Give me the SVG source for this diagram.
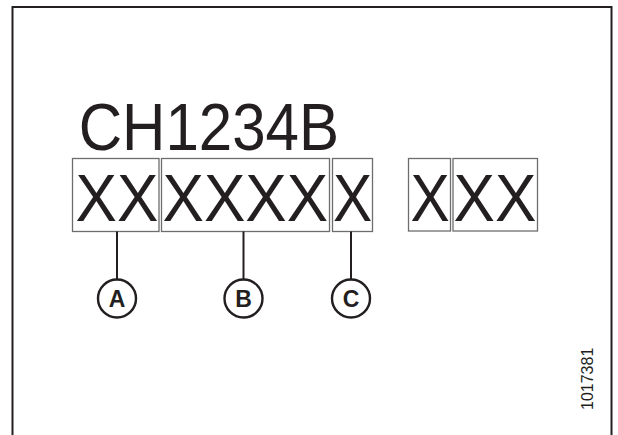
<svg xmlns="http://www.w3.org/2000/svg" width="618" height="435" viewBox="0 0 618 435">
<style>
.big{font-family:"Liberation Sans",Arial,sans-serif;font-size:66px;fill:#231f20}
.box{fill:none;stroke:#6d6d6d;stroke-width:1.3}
.lead{stroke:#231f20;stroke-width:2;fill:none}
.call{fill:#fff;stroke:#231f20;stroke-width:2.4}
.lbl{font-family:"Liberation Sans",Arial,sans-serif;font-size:23px;font-weight:bold;fill:#231f20;text-anchor:middle}
.id{font-family:"Liberation Sans",Arial,sans-serif;font-size:16px;fill:#231f20}
</style>
<rect x="0" y="0" width="618" height="435" fill="#fff"/>
<rect x="12.5" y="7" width="599" height="440" fill="none" stroke="#231f20" stroke-width="2"/>
<g id="title"><text class="big" font-size="65.6" transform="translate(78.7 150) scale(0.91 1)">CH1234B</text></g>
<g id="seg-a"><rect class="box" x="72.5" y="158.5" width="86.5" height="73"/><text class="big" transform="translate(75.5 221) scale(0.94 1)">XX</text></g>
<g id="seg-b"><rect class="box" x="161.5" y="158.5" width="168" height="73"/><text class="big" transform="translate(162.5 221) scale(0.94 1)">XXXX</text></g>
<g id="seg-c"><rect class="box" x="332.5" y="158.5" width="40" height="73"/><text class="big" transform="translate(333 221) scale(0.89 1)">X</text></g>
<g id="seg-d"><rect class="box" x="408.5" y="158.5" width="42" height="72.5"/><text class="big" transform="translate(410.5 221) scale(0.89 1)">X</text></g>
<g id="seg-e"><rect class="box" x="453" y="158.5" width="84.5" height="72.5"/><text class="big" transform="translate(453.5 221) scale(0.94 1)">XX</text></g>
<g id="connectors">
<line class="lead" x1="117" y1="231.5" x2="117" y2="279"/>
<line class="lead" x1="243.5" y1="231.5" x2="243.5" y2="279"/>
<line class="lead" x1="351" y1="231.5" x2="351" y2="279"/>
</g>
<g id="callout-a"><circle class="call" cx="117" cy="298.5" r="19"/><text class="lbl" x="117" y="306.5">A</text></g>
<g id="callout-b"><circle class="call" cx="243.5" cy="298.5" r="19"/><text class="lbl" x="243.5" y="306.5">B</text></g>
<g id="callout-c"><circle class="call" cx="351" cy="298.5" r="19"/><text class="lbl" x="351" y="306.5">C</text></g>
<g id="fig-id"><text class="id" transform="translate(593 410) rotate(-90)">1017381</text></g>
</svg>
